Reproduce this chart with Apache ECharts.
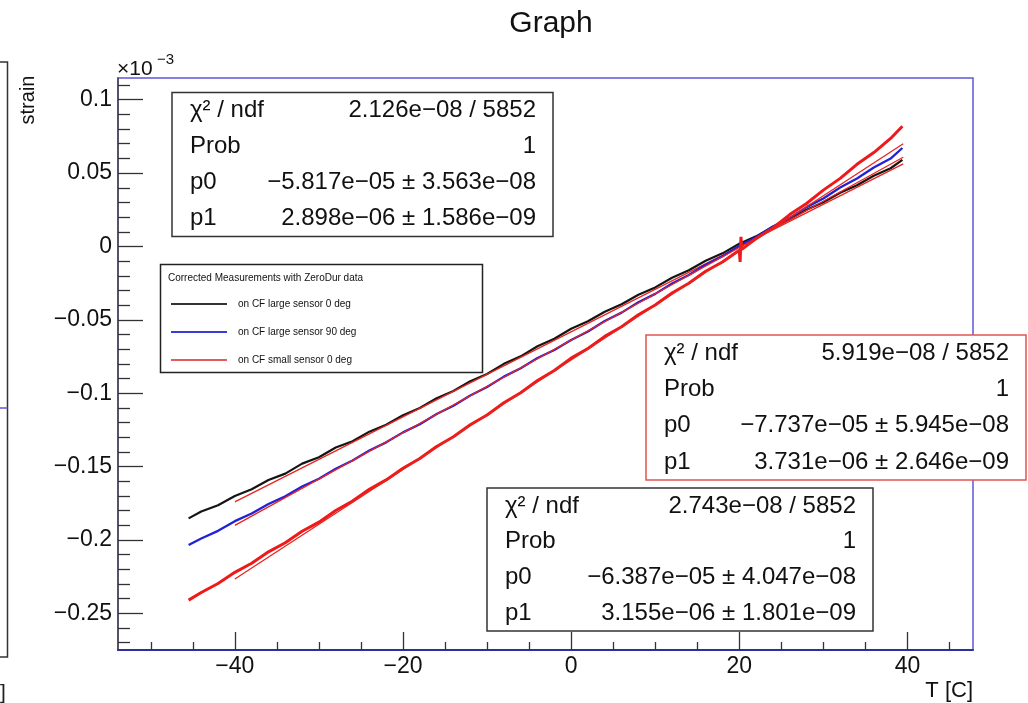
<!DOCTYPE html>
<html><head><meta charset="utf-8">
<script src="https://cdn.jsdelivr.net/npm/echarts@6/dist/echarts.min.js"></script>
<style>html,body{margin:0;padding:0;background:#fff}#c{width:1028px;height:703px}</style>
</head><body><div id="c"></div>
<script>
const FONT = '"Liberation Sans", Arial, Helvetica, sans-serif';

// ---- data (strain in units of 1e-3, temperature in C) ----
const tempsBW = [-45.5,-44,-42,-40,-38,-36,-34,-32,-30,-28,-26,-24,-22,-20,-18,-16,-14,-12,-10,-8,-6,-4,-2,0,2,4,6,8,10,12,14,16,18,20,22,24,26,28,30,32,34,36,38,39.4];
const strainLarge0 = [-0.1853,-0.1806,-0.1764,-0.1700,-0.1655,-0.1592,-0.1548,-0.1480,-0.1436,-0.1370,-0.1327,-0.1262,-0.1215,-0.1150,-0.1101,-0.1034,-0.0985,-0.0918,-0.0869,-0.0800,-0.0749,-0.0680,-0.0629,-0.0561,-0.0510,-0.0445,-0.0394,-0.0329,-0.0279,-0.0213,-0.0162,-0.0097,-0.0047,0.0018,0.0069,0.0134,0.0185,0.0250,0.0301,0.0366,0.0417,0.0482,0.0533,0.0590];
const strainLarge90 = [-0.2035,-0.1990,-0.1938,-0.1872,-0.1820,-0.1755,-0.1703,-0.1636,-0.1583,-0.1515,-0.1459,-0.1390,-0.1335,-0.1267,-0.1211,-0.1142,-0.1086,-0.1016,-0.0958,-0.0887,-0.0830,-0.0760,-0.0705,-0.0637,-0.0579,-0.0508,-0.0451,-0.0380,-0.0323,-0.0252,-0.0195,-0.0124,-0.0067,0.0004,0.0063,0.0136,0.0195,0.0268,0.0327,0.0402,0.0463,0.0538,0.0599,0.0671];
const tempsSmall = [-45.5,-44,-42,-40,-38,-36,-34,-32,-30,-28,-26,-24,-22,-20,-18,-16,-14,-12,-10,-8,-6,-4,-2,0,2,4,6,8,10,12,14,16,18,20,20.1,20.2,20.3,22,24,26,28,30,32,34,36,38,39.4];
const strainSmall0 = [-0.2410,-0.2358,-0.2297,-0.2221,-0.2159,-0.2081,-0.2019,-0.1941,-0.1879,-0.1799,-0.1735,-0.1655,-0.1591,-0.1511,-0.1445,-0.1363,-0.1297,-0.1215,-0.1149,-0.1065,-0.0997,-0.0913,-0.0845,-0.0761,-0.0695,-0.0613,-0.0547,-0.0465,-0.0399,-0.0317,-0.0251,-0.0169,-0.0106,-0.0026,-0.0105,0.0066,-0.0020,0.0054,0.0126,0.0217,0.0293,0.0384,0.0464,0.0560,0.0640,0.0736,0.0819];
// fitted pol1 lines (drawn over the fit range)
const fitTemps = [-40, 39.5];
const fitLarge0 = [-0.1741, 0.0563];
const fitLarge90 = [-0.1901, 0.0608];
const fitSmall0 = [-0.2266, 0.0700];

const seriesNames = ['on CF large sensor 0 deg','on CF large sensor 90 deg','on CF small sensor 0 deg'];
const legendHeader = 'Corrected Measurements with ZeroDur data';

const statLabels = ['\u03C7\u00B2 / ndf','Prob','p0','p1'];
const statLarge0 = ['2.126e\u221208 / 5852','1','\u22125.817e\u221205 \u00B1 3.563e\u221208','2.898e\u221206 \u00B1 1.586e\u221209'];
const statSmall0 = ['5.919e\u221208 / 5852','1','\u22127.737e\u221205 \u00B1 5.945e\u221208','3.731e\u221206 \u00B1 2.646e\u221209'];
const statLarge90 = ['2.743e\u221208 / 5852','1','\u22126.387e\u221205 \u00B1 4.047e\u221208','3.155e\u221206 \u00B1 1.801e\u221209'];

const xMajorTicks = [-40,-20,0,20,40];
const xMinorTicks = [-50,-45,-35,-30,-25,-15,-10,-5,5,10,15,25,30,35,45];
const yMajorTicks = [-0.25,-0.2,-0.15,-0.1,-0.05,0,0.05,0.1];
const yMinorTicks = [-0.27,-0.26,-0.24,-0.23,-0.22,-0.21,-0.19,-0.18,-0.17,-0.16,-0.14,-0.13,-0.12,-0.11,-0.09,-0.08,-0.07,-0.06,-0.04,-0.03,-0.02,-0.01,0.01,0.02,0.03,0.04,0.06,0.07,0.08,0.09,0.11];
const X_MIN = -53.9, X_MAX = 47.8, Y_MIN = -0.275, Y_MAX = 0.1148;

// ---- helpers ----
const pairs = (xs, ys) => xs.map((x, i) => [x, ys[i]]);
const fmt = v => String(Math.round(v * 1000) / 1000).replace('-', '\u2212');

function statBox(x, y, w, h, stroke, values) {
  const rh = h / 4;
  const children = [{
    type: 'rect', shape: { x: x, y: y, width: w, height: h },
    style: { fill: '#fff', stroke: stroke, lineWidth: 1.5 }
  }];
  statLabels.forEach((lab, i) => {
    children.push({ type: 'text', style: { text: lab, x: x + 18, y: y + rh * i + rh / 2, font: '24px ' + FONT, fill: '#111', textAlign: 'left', textVerticalAlign: 'middle' } });
    children.push({ type: 'text', style: { text: values[i], x: x + w - 17, y: y + rh * i + rh / 2, font: '24px ' + FONT, fill: '#111', textAlign: 'right', textVerticalAlign: 'middle' } });
  });
  return { type: 'group', z: 100, children: children };
}

const legendColors = ['#333333', '#3b3bd8', '#e35b5b'];
const legendGroup = {
  type: 'group', z: 100, children: [
    { type: 'rect', shape: { x: 160.5, y: 264.5, width: 322, height: 108 }, style: { fill: '#fff', stroke: '#222', lineWidth: 1.5 } },
    { type: 'text', style: { text: legendHeader, x: 168, y: 278, font: '10px ' + FONT, fill: '#111', textVerticalAlign: 'middle' } }
  ].concat(...seriesNames.map((n, i) => [
    { type: 'line', shape: { x1: 171, y1: 304 + 28 * i, x2: 227, y2: 304 + 28 * i }, style: { stroke: legendColors[i], lineWidth: 2 } },
    { type: 'text', style: { text: n, x: 238, y: 304 + 28 * i, font: '10px ' + FONT, fill: '#111', textVerticalAlign: 'middle' } }
  ]))
};

const chart = echarts.init(document.getElementById('c'), null, { renderer: 'canvas' });
const tickStyle = { color: '#333', width: 1.3 };
chart.setOption({
  animation: false,
  backgroundColor: '#fff',
  title: { text: 'Graph', left: 546, top: 4, textAlign: 'center', textStyle: { fontSize: 30, fontWeight: 'normal', fontFamily: FONT, color: '#111' } },
  grid: { left: 118, right: 55, top: 78, bottom: 53, show: true, borderColor: '#5f57d6', borderWidth: 1.5, backgroundColor: 'transparent' },
  xAxis: [
    { type: 'value', min: X_MIN, max: X_MAX, position: 'bottom',
      axisLine: { onZero: false, lineStyle: { color: '#2e2ea0', width: 2 } },
      axisTick: { inside: true, length: 18, customValues: xMajorTicks, lineStyle: tickStyle },
      axisLabel: { customValues: xMajorTicks, formatter: fmt, fontSize: 23, fontFamily: FONT, color: '#111', margin: 5 },
      splitLine: { show: false } },
    { type: 'value', min: X_MIN, max: X_MAX, position: 'bottom',
      axisLine: { show: false, onZero: false },
      axisTick: { inside: true, length: 8, customValues: xMinorTicks, lineStyle: tickStyle },
      axisLabel: { show: false }, splitLine: { show: false } }
  ],
  yAxis: [
    { type: 'value', min: Y_MIN, max: Y_MAX, position: 'left',
      axisLine: { show: true, onZero: false, lineStyle: { color: '#444', width: 1.5 } },
      axisTick: { inside: true, length: 25, customValues: yMajorTicks, lineStyle: tickStyle },
      axisLabel: { customValues: yMajorTicks, formatter: fmt, fontSize: 23, fontFamily: FONT, color: '#111', margin: 6 },
      splitLine: { show: false } },
    { type: 'value', min: Y_MIN, max: Y_MAX, position: 'left',
      axisLine: { show: false, onZero: false },
      axisTick: { inside: true, length: 12, customValues: yMinorTicks, lineStyle: tickStyle },
      axisLabel: { show: false }, splitLine: { show: false } }
  ],
  series: [
    { name: seriesNames[0], type: 'line', symbol: 'none', data: pairs(tempsBW, strainLarge0), lineStyle: { color: '#151515', width: 2.2 }, z: 2 },
    { name: seriesNames[0] + ' fit', type: 'line', symbol: 'none', data: pairs(fitTemps, fitLarge0), lineStyle: { color: '#e8241f', width: 1.3 }, z: 3 },
    { name: seriesNames[1], type: 'line', symbol: 'none', data: pairs(tempsBW, strainLarge90), lineStyle: { color: '#2121d6', width: 2.3 }, z: 4 },
    { name: seriesNames[1] + ' fit', type: 'line', symbol: 'none', data: pairs(fitTemps, fitLarge90), lineStyle: { color: '#e8241f', width: 1.3 }, z: 5 },
    { name: seriesNames[2], type: 'line', symbol: 'none', data: pairs(tempsSmall, strainSmall0), lineStyle: { color: '#ee1a1a', width: 3 }, z: 6 },
    { name: seriesNames[2] + ' fit', type: 'line', symbol: 'none', data: pairs(fitTemps, fitSmall0), lineStyle: { color: '#e8241f', width: 1.3 }, z: 7 }
  ],
  graphic: [
    // neighbouring pad remnants at the left edge
    { type: 'polyline', shape: { points: [[0, 62], [7.5, 62], [7.5, 657], [0, 657]] }, style: { stroke: '#333', lineWidth: 1.5, fill: null } },
    { type: 'line', shape: { x1: 0, y1: 408, x2: 7.5, y2: 408 }, style: { stroke: '#5f57d6', lineWidth: 1.5 } },
    { type: 'text', style: { text: ']', x: 0, y: 693, font: '21px ' + FONT, fill: '#222', textVerticalAlign: 'middle' } },
    // axis titles
    { type: 'text', style: { text: 'T [C]', x: 973, y: 691, font: '22px ' + FONT, fill: '#111', textAlign: 'right', textVerticalAlign: 'middle' } },
    { type: 'text', rotation: Math.PI / 2, x: 28, y: 100, style: { text: 'strain', x: 0, y: 0, font: '20px ' + FONT, fill: '#111', textAlign: 'center', textVerticalAlign: 'middle' } },
    { type: 'text', style: { text: '\u00D710', x: 117, y: 69, font: '21px ' + FONT, fill: '#111', textVerticalAlign: 'middle' } },
    { type: 'text', style: { text: '\u22123', x: 157, y: 60, font: '15px ' + FONT, fill: '#111', textVerticalAlign: 'middle' } },
    statBox(172, 92.5, 381, 144, '#333', statLarge0),
    statBox(646, 335, 380, 145, '#e05555', statSmall0),
    statBox(487, 488, 386, 143, '#333', statLarge90),
    legendGroup
  ]
});
</script></body></html>
